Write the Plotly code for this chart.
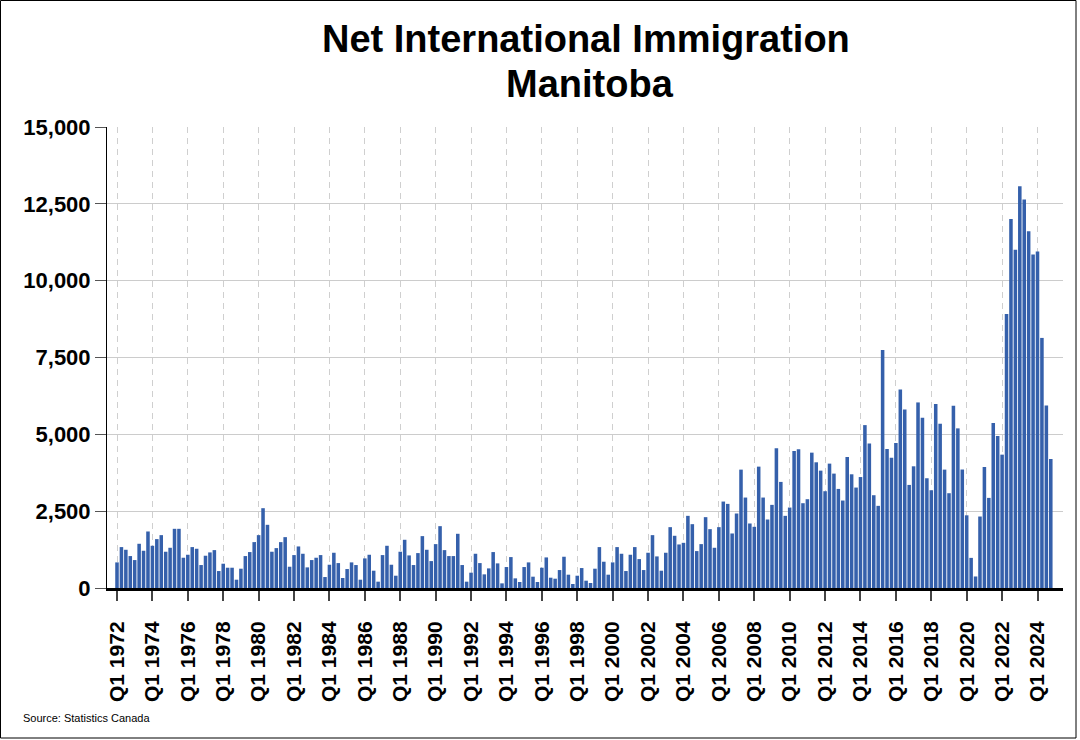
import plotly.graph_objects as go

# Quarterly categories Q1 1972 .. Q4 2024
years = list(range(1972, 2025))
quarters = [f"Q{q} {y}" for y in years for q in (1, 2, 3, 4)]

# Net international immigration, Manitoba (persons per quarter)
net_immigration = [
    833, 1331, 1244, 1039, 909, 1439, 1212, 1839,       # 1972-1973
    1374, 1591, 1720, 1180, 1309, 1926, 1926, 985,      # 1974-1975
    1082, 1331, 1277, 747, 1050, 1158, 1233, 552,       # 1976-1977
    790, 660, 660, 270, 628, 1039, 1169, 1493,          # 1978-1979
    1720, 2597, 2056, 1180, 1298, 1493, 1655, 692,      # 1980-1981
    1071, 1352, 1114, 671, 909, 985, 1071, 357,         # 1982-1983
    757, 1147, 811, 325, 617, 833, 747, 270,            # 1984-1985
    963, 1082, 563, 206, 1071, 1374, 757, 400,          # 1986-1987
    1180, 1569, 1060, 747, 1136, 1688, 1244, 876,       # 1988-1989
    1428, 2012, 1233, 1039, 1039, 1764, 747, 206,       # 1990-1991
    498, 1114, 811, 444, 638, 1169, 801, 151,           # 1992-1993
    682, 1006, 314, 195, 682, 833, 368, 195,            # 1994-1995
    660, 995, 335, 303, 584, 1017, 433, 130,            # 1996-1997
    400, 649, 238, 162, 628, 1331, 855, 433,            # 1998-1999
    833, 1331, 1114, 552, 1082, 1331, 941, 584,         # 2000-2001
    1147, 1720, 1028, 563, 1147, 1980, 1699, 1417,      # 2002-2003
    1470, 2348, 2077, 1201, 1428, 2305, 1915, 1309,     # 2004-2005
    1980, 2813, 2737, 1774, 2424, 3852, 2943, 2099,     # 2006-2007
    1991, 3949, 2943, 2229, 2705, 4544, 3452, 2348,     # 2008-2009
    2618, 4458, 4512, 2759, 2889, 4404, 4090, 3819,     # 2010-2011
    3149, 4047, 3722, 3224, 2846, 4263, 3700, 3268,     # 2012-2013
    3610, 5300, 4700, 3019, 2673, 7747, 4523, 4241,     # 2014-2015
    4718, 6460, 5810, 3354, 3960, 6038, 5540, 3571,     # 2016-2017
    3181, 5983, 5345, 3852, 3084, 5929, 5194, 3855,     # 2018-2019
    2365, 980, 375, 2326, 3938, 2932, 5367, 4945,       # 2020-2021
    4339, 8916, 12010, 11004, 13071, 12638, 11610, 10852,  # 2022-2023
    10950, 8137, 5940, 4198,                            # 2024
]

tick_labels = [
    "Q1 1972", "Q1 1974", "Q1 1976", "Q1 1978", "Q1 1980", "Q1 1982",
    "Q1 1984", "Q1 1986", "Q1 1988", "Q1 1990", "Q1 1992", "Q1 1994",
    "Q1 1996", "Q1 1998", "Q1 2000", "Q1 2002", "Q1 2004", "Q1 2006",
    "Q1 2008", "Q1 2010", "Q1 2012", "Q1 2014", "Q1 2016", "Q1 2018",
    "Q1 2020", "Q1 2022", "Q1 2024",
]
y_ticks = [0, 2500, 5000, 7500, 10000, 12500, 15000]
title_lines = ["Net International Immigration", "Manitoba"]

FONT = "Liberation Sans, Arial, sans-serif"

fig = go.Figure(
    go.Bar(
        x=quarters,
        y=net_immigration,
        marker=dict(color="#3560AB", line=dict(width=0)),
    )
)

L, R, T, B = 107, 17, 127, 152
W, H = 1080, 740
pw, ph = W - L - R, H - T - B


def px_x(px):
    return (px - L) / pw


def px_y(py):
    return ((H - B) - py) / ph


fig.update_layout(
    width=W,
    height=H,
    margin=dict(l=L, r=R, t=T, b=B),
    paper_bgcolor="white",
    plot_bgcolor="white",
    bargap=0.2,
    showlegend=False,
    font=dict(family=FONT, color="black"),
    xaxis=dict(
        type="category",
        range=[-2.26, 213.76],
        tickmode="array",
        tickvals=tick_labels,
        ticktext=[f"<b>{t}</b>" for t in tick_labels],
        tickangle=-90,
        tickfont=dict(family=FONT, size=21, color="black"),
        ticks="outside",
        ticklen=10,
        tickwidth=1.5,
        tickcolor="#444",
        ticklabelstandoff=12,
        showgrid=True,
        gridcolor="#cfcfcf",
        griddash="6px,5px",
        gridwidth=1,
        showline=True,
        linecolor="black",
        linewidth=3,
        zeroline=False,
    ),
    yaxis=dict(
        range=[0, 15000],
        tickmode="array",
        tickvals=y_ticks,
        ticktext=[f"<b>{v:,}</b>" for v in y_ticks],
        tickfont=dict(family=FONT, size=22, color="black"),
        ticks="outside",
        ticklen=11,
        tickcolor="#555",
        showgrid=True,
        gridcolor="#cccccc",
        gridwidth=1,
        showline=True,
        linecolor="black",
        linewidth=1,
        zeroline=False,
    ),
    shapes=[
        dict(
            type="rect",
            xref="paper",
            yref="paper",
            x0=px_x(0.5),
            x1=px_x(1076),
            y0=px_y(738),
            y1=px_y(0.5),
            line=dict(color="black", width=1),
            fillcolor="rgba(0,0,0,0)",
            layer="above",
        )
    ],
    annotations=[
        dict(
            text=f"<b>{title_lines[0]}</b>",
            xref="paper", yref="paper",
            x=px_x(586), y=px_y(39),
            xanchor="center", yanchor="middle",
            showarrow=False,
            font=dict(family=FONT, size=38, color="black"),
        ),
        dict(
            text=f"<b>{title_lines[1]}</b>",
            xref="paper", yref="paper",
            x=px_x(590), y=px_y(84),
            xanchor="center", yanchor="middle",
            showarrow=False,
            font=dict(family=FONT, size=38, color="black"),
        ),
        dict(
            text="Source: Statistics Canada",
            xref="paper", yref="paper",
            x=px_x(21), y=px_y(718),
            xanchor="left", yanchor="middle",
            showarrow=False,
            font=dict(family=FONT, size=11, color="black"),
        ),
    ],
)

fig.write_html(
    "out.html",
    config={"displayModeBar": False},
    post_script="document.body.style.margin='0';",
)
